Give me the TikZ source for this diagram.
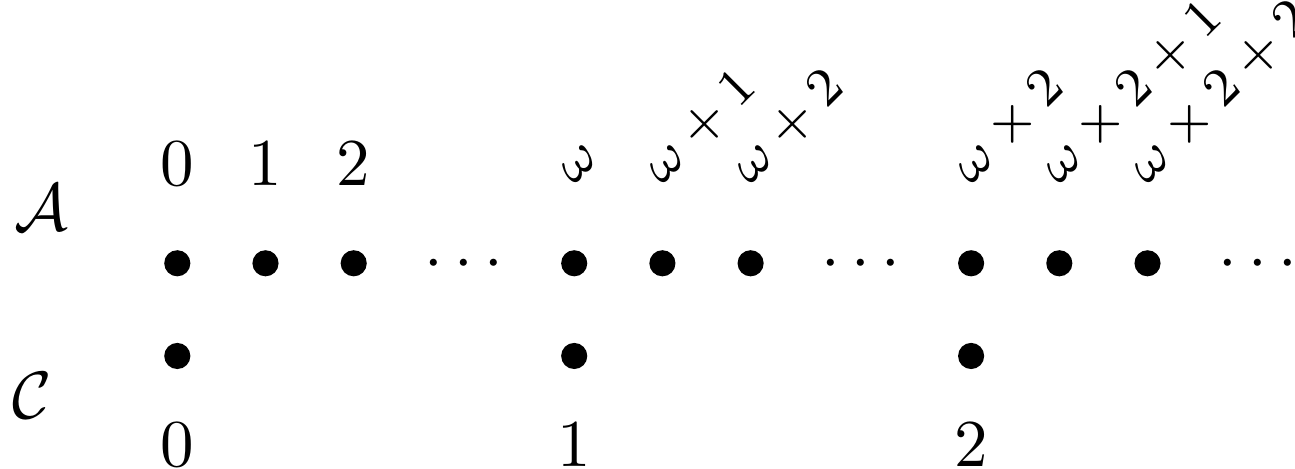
\documentclass[tikz,border=0pt]{standalone}
\begin{document}
\begin{tikzpicture}[x=0.14925pt,y=-0.14925pt,
  dotnode/.style={circle,fill=black,inner sep=0pt,minimum size=3.9pt},
  lab/.style={inner sep=0pt,anchor=base},
  rlab/.style={inner sep=0pt,anchor=base west,rotate=45,font=\footnotesize},
  ell/.style={inner sep=0pt,anchor=base}]
\useasboundingbox (0,0) rectangle (1295,469);
% row names
\node[inner sep=0pt] (A) at (41,208) {$\mathcal{A}$};
\node[inner sep=0pt] (C) at (32,396) {$\mathcal{C}$};
% A row dots
\foreach \n/\x in {a0/177.3,a1/265.5,a2/353.7,a3/574.2,a4/662.4,a5/750.6,a6/971.1,a7/1059.3,a8/1147.5}
  \node[dotnode] (\n) at (\x,263.3) {};
\foreach \n/\x in {e1/463.9,e2/861,e3/1257.8}
  \node[ell] (\n) at (\x,280) {$\cdots$};
% A labels
\node[lab] (l0) at (177.3,186) {$0$};
\node[lab] (l1) at (265.5,186) {$1$};
\node[lab] (l2) at (353.7,186) {$2$};
\node[rlab] (l3) at (573.5,186) {$\omega$};
\node[rlab] (l4) at (661.7,186) {$\omega+1$};
\node[rlab] (l5) at (749.9,186) {$\omega+2$};
\node[rlab] (l6) at (970.4,186) {$\omega\times2$};
\node[rlab] (l7) at (1058.6,186) {$\omega\times2+1$};
\node[rlab] (l8) at (1146.8,186) {$\omega\times2+2$};
% C row
\node[dotnode] (c0) at (177.3,356) {};
\node[dotnode] (c1) at (574.2,356) {};
\node[dotnode] (c2) at (971.1,356) {};
\node[lab] (m0) at (177.3,467) {$0$};
\node[lab] (m1) at (574.2,467) {$1$};
\node[lab] (m2) at (971.1,467) {$2$};
\end{tikzpicture}
\end{document}
